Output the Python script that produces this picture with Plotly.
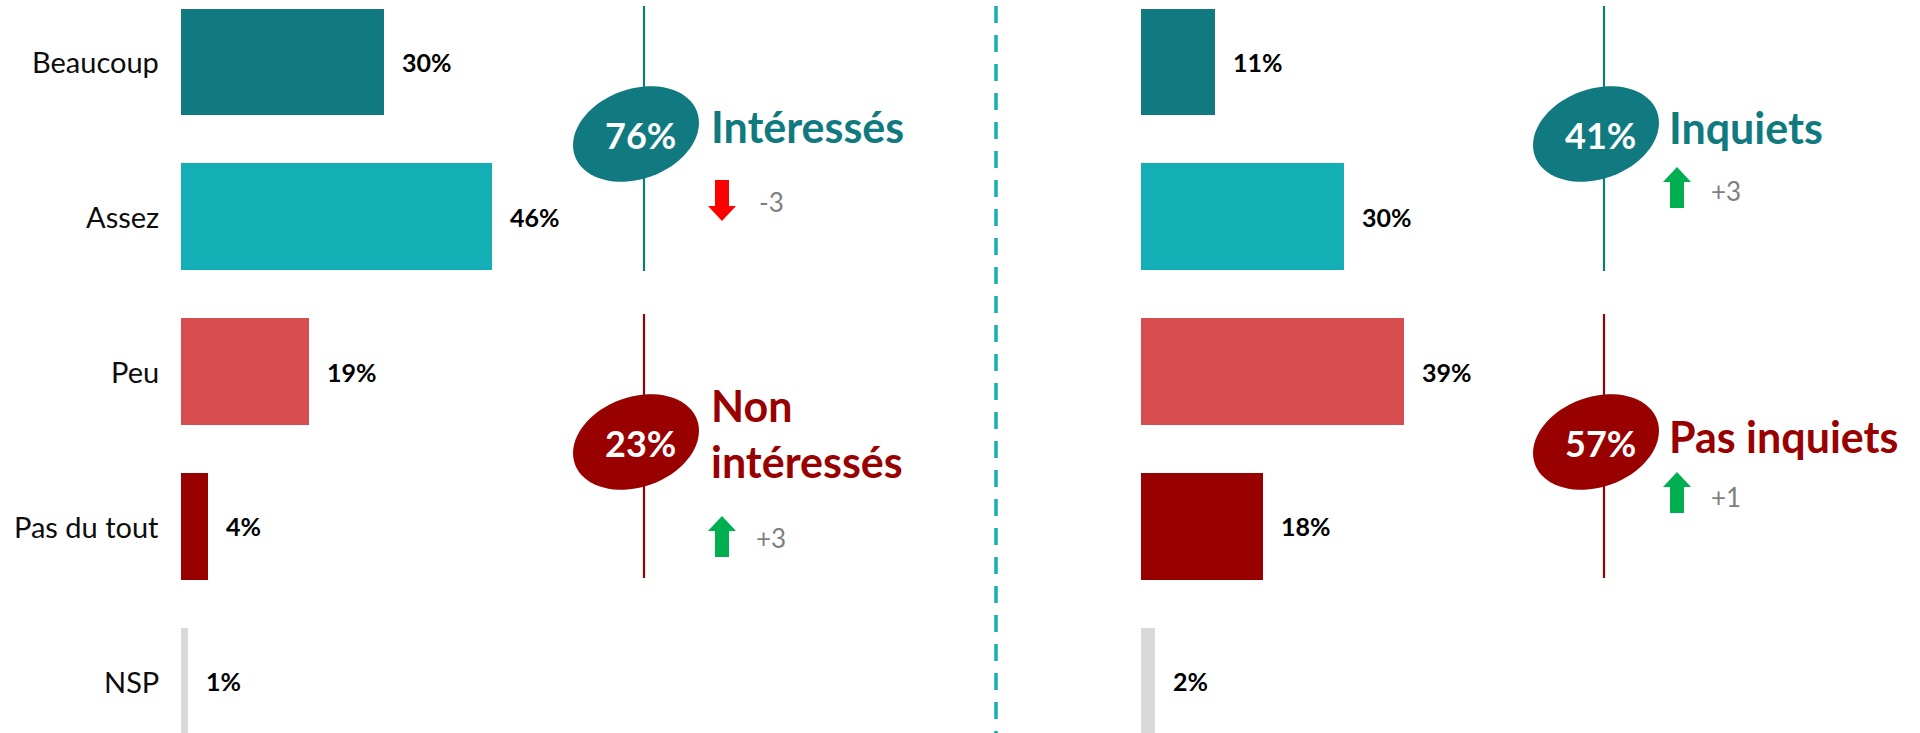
import numpy as np
import plotly.graph_objects as go

# ---------------- data ----------------
categories = ["Beaucoup", "Assez", "Peu", "Pas du tout", "NSP"]
interet = [30, 46, 19, 4, 1]
inquietude = [11, 30, 39, 18, 2]
bar_colors = ["#107A80", "#14AEB5", "#D84D50", "#990000", "#D9D9D9"]

left_net_labels = ["Intéressés", "Non<br>intéressés"]
left_net_values = [76, 23]
left_changes = [-3, 3]
right_net_labels = ["Inquiets", "Pas inquiets"]
right_net_values = [41, 57]
right_changes = [3, 1]
net_colors = ["#107A80", "#990000"]

# ---------------- layout constants (pixels) ----------------
W, H = 1920, 733
PX_PER_PCT = 6.75
LEFT_BASE = 181
RIGHT_BASE = 1141
FONT = "Lato"

fig = go.Figure()

fig.add_trace(go.Bar(
    y=categories, x=interet, orientation="h", marker_color=bar_colors,
    marker_line_width=0, width=0.69, xaxis="x", yaxis="y",
    hoverinfo="skip", showlegend=False))
fig.add_trace(go.Bar(
    y=categories, x=inquietude, orientation="h", marker_color=bar_colors,
    marker_line_width=0, width=0.69, xaxis="x2", yaxis="y",
    hoverinfo="skip", showlegend=False))
fig.add_trace(go.Scatter(x=[None], y=[None], xaxis="x3", yaxis="y3",
                         showlegend=False, hoverinfo="skip"))

annotations = []
# value labels
for xref, vals in (("x", interet), ("x2", inquietude)):
    for c, v in zip(categories, vals):
        annotations.append(dict(
            x=v, y=c, xref=xref, yref="y", text=f"<b>{v}%</b>",
            showarrow=False, xanchor="left", yanchor="middle", xshift=16,
            font=dict(family=FONT, size=25, color="#000000")))
# category labels
for c in categories:
    annotations.append(dict(
        x=0, y=c, xref="x", yref="y", text=c, showarrow=False,
        xanchor="right", yanchor="middle", xshift=-20,
        font=dict(family=FONT, size=29, color="#0D0D0D")))

shapes = []


def ellipse_path(cx, cy, a, b, theta_deg, n=72):
    th = np.deg2rad(theta_deg)
    t = np.linspace(0, 2 * np.pi, n, endpoint=False)
    xs = cx + a * np.cos(t) * np.cos(th) + b * np.sin(t) * np.sin(th)
    ys = cy - a * np.cos(t) * np.sin(th) + b * np.sin(t) * np.cos(th)
    pts = [f"{x:.2f},{y:.2f}" for x, y in zip(xs, ys)]
    return "M " + " L ".join(pts) + " Z"


def arrow_path(x0, y0, w, h, up, shaft=14, head=15):
    cx = x0 + w / 2
    s = shaft / 2
    if up:
        tip, hb, end = y0, y0 + head, y0 + h
    else:
        tip, hb, end = y0 + h, y0 + h - head, y0
    return (f"M {cx},{tip} L {x0 + w},{hb} L {cx + s},{hb} L {cx + s},{end} "
            f"L {cx - s},{end} L {cx - s},{hb} L {x0},{hb} Z")


panels = [
    dict(line_x=644, labels=left_net_labels, values=left_net_values,
         changes=left_changes, label_x=709,
         label_y=[126, 433], arrow_x=708, arrow_y=[180, 516],
         change_x=771, change_y=[202, 538]),
    dict(line_x=1604, labels=right_net_labels, values=right_net_values,
         changes=right_changes, label_x=1667,
         label_y=[127, 436], arrow_x=1663, arrow_y=[167, 472],
         change_x=1726, change_y=[191, 497]),
]
seg_y = [(6, 271), (314, 578)]
ell_cy = [134, 442]

for p in panels:
    for i in range(2):
        col = net_colors[i]
        shapes.append(dict(type="line", xref="x3", yref="y3",
                           x0=p["line_x"], x1=p["line_x"],
                           y0=seg_y[i][0], y1=seg_y[i][1],
                           line=dict(color=col, width=2.2)))
        shapes.append(dict(type="path", xref="x3", yref="y3",
                           path=ellipse_path(p["line_x"] - 8, ell_cy[i], 65, 45, 20),
                           fillcolor=col, line=dict(width=0)))
        annotations.append(dict(
            x=p["line_x"] - 4, y=ell_cy[i] + 1, xref="x3", yref="y3",
            text=f"<b>{p['values'][i]}%</b>", showarrow=False,
            xanchor="center", yanchor="middle",
            font=dict(family=FONT, size=36, color="#FFFFFF")))
        annotations.append(dict(
            x=p["label_x"], y=p["label_y"][i], xref="x3", yref="y3",
            text=f"<b>{p['labels'][i]}</b>", showarrow=False,
            xanchor="left", yanchor="middle", align="left",
            font=dict(family=FONT, size=43, color=col)))
        ch = p["changes"][i]
        up = ch > 0
        shapes.append(dict(type="path", xref="x3", yref="y3",
                           path=arrow_path(p["arrow_x"], p["arrow_y"][i], 28, 41, up),
                           fillcolor="#00B050" if up else "#FF0000",
                           line=dict(width=0)))
        annotations.append(dict(
            x=p["change_x"], y=p["change_y"][i], xref="x3", yref="y3",
            text=f"{ch:+d}", showarrow=False, xanchor="center", yanchor="middle",
            font=dict(family=FONT, size=26, color="#7F7F7F")))

# separator
shapes.append(dict(type="line", xref="x3", yref="y3", x0=996, x1=996, y0=6, y1=733,
                   line=dict(color="#14AEB5", width=3.5, dash="17px,12px")))

hidden = dict(visible=False, showgrid=False, zeroline=False, fixedrange=True)

fig.update_layout(
    width=W, height=H, margin=dict(l=0, r=0, t=0, b=0, pad=0),
    paper_bgcolor="white", plot_bgcolor="rgba(0,0,0,0)",
    bargap=0, barmode="overlay",
    xaxis=dict(domain=[0, 0.5], anchor="y",
               range=[-LEFT_BASE / PX_PER_PCT, (W / 2 - LEFT_BASE) / PX_PER_PCT], **hidden),
    xaxis2=dict(domain=[0.5, 1], anchor="y",
                range=[-(RIGHT_BASE - W / 2) / PX_PER_PCT, (W - RIGHT_BASE) / PX_PER_PCT], **hidden),
    yaxis=dict(domain=[0, 1], type="category", categoryarray=categories,
               range=[4.335, -0.40], **hidden),
    xaxis3=dict(domain=[0, 1], range=[0, W], anchor="y3", **hidden),
    yaxis3=dict(domain=[0, 1], range=[H, 0], anchor="x3", **hidden),
    shapes=shapes, annotations=annotations,
    showlegend=False,
)

fig.write_html("out.html", config={"displayModeBar": False},
               post_script="document.body.style.margin='0';document.body.style.overflow='hidden';")
